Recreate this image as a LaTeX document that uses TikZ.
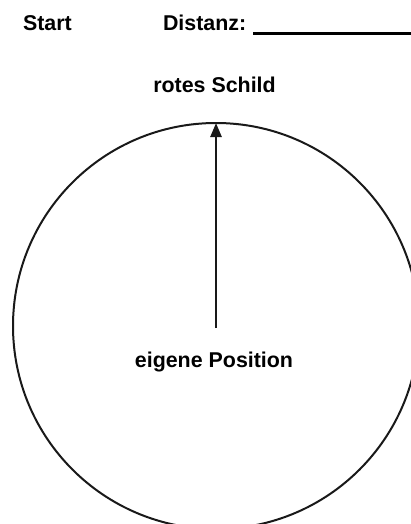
\documentclass[tikz,border=0pt]{standalone}
\usepackage{fontspec}
\setmainfont{Liberation Sans}
\usetikzlibrary{arrows.meta}
\begin{document}
\begin{tikzpicture}[x=1pt,y=-1pt,
  lbl/.style={font=\bfseries\fontsize{21.4}{25}\selectfont, inner sep=0pt, outer sep=0pt},
  ring/.style={draw=black!90, line width=2pt, circle, minimum size=406pt, inner sep=0pt, outer sep=0pt},
  arr/.style={draw=black!90, line width=2.6pt, -{Triangle[length=14pt,width=11pt]}}]
\useasboundingbox (0,0) rectangle (411,524);
\clip (0,0) rectangle (411,524);
\node[lbl, anchor=base west] (start) at (23,31) {Start};
\node[lbl, anchor=base west] (dist) at (163,31) {Distanz:};
\coordinate (ulA) at (253,33.5);
\coordinate (ulB) at (420,33.5);
\draw[line width=2.8pt] (ulA) -- (ulB);
\node[lbl, anchor=base] (schild) at (214.5,93) {rotes Schild};
\node[ring] (circ) at (216,326) {};
\node[lbl, anchor=base] (pos) at (214,367) {eigene Position};
\coordinate (own) at (216,328);
\draw[arr] (own) -- (circ.north);
\end{tikzpicture}
\end{document}
